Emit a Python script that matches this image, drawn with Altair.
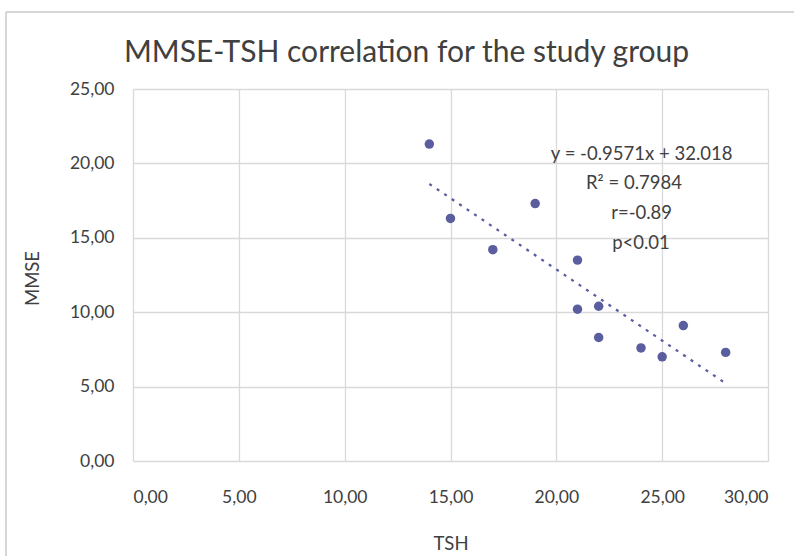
import altair as alt
import pandas as pd

# TSH / MMSE measurements for the study group
tsh = [14, 15, 17, 19, 21, 21, 22, 22, 24, 25, 26, 28]
mmse = [21.3, 16.3, 14.2, 17.3, 13.5, 10.2, 10.4, 8.3, 7.6, 7.0, 9.1, 7.3]

# linear trend reported on the chart
slope = -0.9571
intercept = 32.018

stats_lines = ["y = -0.9571x + 32.018", "R\u00b2 = 0.7984", "r=-0.89", "p<0.01"]
stats_x = [24.03, 23.67, 24.03, 24.0]
stats_y = [20.63, 18.68, 16.67, 14.65]

chart_title = "MMSE-TSH correlation for the study group"

FONT = "Lato"
TEXT = "#404040"
POINT = "#5B5E9E"
GRID = "#d9d9d9"
FRAME = "#c8c8c8"

W, H = 635, 372

pts = pd.DataFrame({"TSH": tsh, "MMSE": mmse})
trend = pd.DataFrame({"TSH": [min(tsh), max(tsh)]})
stats = pd.DataFrame({"label": stats_lines, "x": stats_x, "y": stats_y})
title_df = pd.DataFrame({"label": [chart_title]})

fmt = "replace(format(datum.value, '.2f'), '.', ',')"

xscale = alt.Scale(domain=[0, 30], nice=False, zero=True)
yscale = alt.Scale(domain=[0, 25], nice=False, zero=True)

xaxis = alt.Axis(
    title="TSH", values=[0, 5, 10, 15, 20, 25, 30], labelExpr=fmt,
    grid=True, gridColor=GRID, gridWidth=1.3, domain=False, ticks=False,
    labelPadding=36, labelBaseline="middle",
    labelFont=FONT, labelFontSize=17.5, labelColor=TEXT,
    titleFont=FONT, titleFontSize=18.5, titleColor=TEXT, titleFontWeight="normal",
    titleY=82, titleBaseline="middle",
)
yaxis = alt.Axis(
    title="MMSE", values=[0, 5, 10, 15, 20, 25], labelExpr=fmt,
    grid=True, gridColor=GRID, gridWidth=1.3, domain=False, ticks=False,
    labelPadding=19, labelFont=FONT, labelFontSize=17.5, labelColor=TEXT,
    titleFont=FONT, titleFontSize=18.5, titleColor=TEXT, titleFontWeight="normal",
    titleX=-101, titleY=189, titleBaseline="middle", titleAngle=-90,
)

points = alt.Chart(pts).mark_circle(size=90, color=POINT, opacity=1).encode(
    x=alt.X("TSH:Q", scale=xscale, axis=xaxis),
    y=alt.Y("MMSE:Q", scale=yscale, axis=yaxis),
)

line = alt.Chart(trend).transform_calculate(
    fit=f"{slope} * datum.TSH + {intercept}"
).mark_line(color=POINT, strokeWidth=2.25, strokeDash=[3, 6]).encode(
    x=alt.X("TSH:Q", scale=xscale),
    y=alt.Y("fit:Q", scale=yscale),
)

labels = alt.Chart(stats).mark_text(
    font=FONT, fontSize=18.5, color=TEXT, align="center", baseline="middle"
).encode(
    x=alt.X("x:Q", scale=xscale),
    y=alt.Y("y:Q", scale=yscale),
    text="label:N",
)

# chart heading, centred over the whole figure
heading = alt.Chart(title_df).mark_text(
    font=FONT, fontSize=30, color=TEXT, align="center", baseline="alphabetic"
).encode(x=alt.value(273.5), y=alt.value(-27), text="label:N")

# outer chart-area border (left and top edges)
frame_left = alt.Chart(title_df).mark_rule(color=FRAME, strokeWidth=1.5).encode(
    x=alt.value(-127), y=alt.value(-77), y2=alt.value(480)
)
frame_top = alt.Chart(title_df).mark_rule(color=FRAME, strokeWidth=1.5).encode(
    x=alt.value(-127), x2=alt.value(670), y=alt.value(-77)
)

chart = alt.layer(frame_left, frame_top, line, points, labels, heading).properties(
    width=W,
    height=H,
    padding={"left": 133, "top": 89, "right": 26, "bottom": 95},
    autosize=alt.AutoSizeParams(type="none"),
    background="white",
).configure_view(stroke=None)

chart.save("out.html", embed_options={"renderer": "svg", "actions": False})
